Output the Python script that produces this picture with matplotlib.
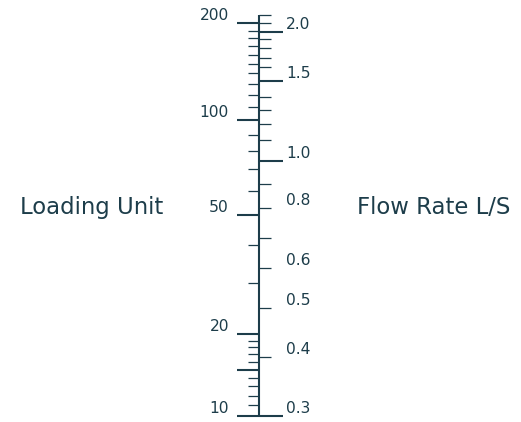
import numpy as np
import matplotlib
matplotlib.use("Agg")
import matplotlib.pyplot as plt
from matplotlib.transforms import offset_copy

# ---------------- data ----------------
lu_labelled = [10, 20, 50, 100, 200]                     # labelled loading units
lu_mid_long = [15]                                        # long unlabelled tick
lu_minor = [11, 12, 13, 14, 16, 17, 18, 19, 30, 40,
            60, 70, 80, 90, 110, 120, 130, 140, 150,
            160, 170, 180, 190]

flow_values = [0.3, 0.4, 0.5, 0.6, 0.7, 0.8, 0.9, 1.0, 1.1, 1.2, 1.3,
               1.4, 1.5, 1.6, 1.7, 1.8, 1.9, 2.0, 2.1, 2.2]
# loading unit equivalent of each flow rate
flow_lu_equiv = [10.0, 16.7, 24.6, 33.5, 42.3, 52.6, 62.9, 74.4, 86.7, 97.6,
                 107.4, 118.5, 132.6, 146.2, 156.6, 167.4, 178.5, 188.0,
                 200.0, 212.2]
flow_labelled = [0.3, 0.4, 0.5, 0.6, 0.8, 1.0, 1.5, 2.0]
flow_long = [0.3, 1.0, 1.5, 2.0]

# ---------------- style ----------------
INK = "#1d3d4a"
W, H = 521, 422
fig = plt.figure(figsize=(W / 100, H / 100), dpi=100)
ax = fig.add_axes([0, 0, 1, 1])
ax.set_xlim(0, W)

C = 3.0
fwd = lambda v: np.log10(np.asarray(v, dtype=float) + C)
inv = lambda u: 10 ** np.asarray(u, dtype=float) - C
ax.set_yscale('function', functions=(fwd, inv))

# layout of the scale: LU 10 sits 6 px above bottom, 329 px per log unit
px_per_u = 329.0
bottom_px = 6.0
u10 = float(fwd(10))
ax.set_ylim(float(inv(u10 - bottom_px / px_per_u)),
            float(inv(u10 + (H - bottom_px) / px_per_u)))
ax.axis('off')

X0 = 259.3
L_MAJ, L_MIN = 22.6, 11.0
R_MAJ, R_MIN = 24.0, 11.4

# main line
ax.vlines(X0, min(lu_labelled), max(flow_lu_equiv), color=INK, lw=1.5)

# left ticks
ax.hlines(lu_labelled + lu_mid_long, X0 - L_MAJ, X0, color=INK, lw=1.5)
ax.hlines(lu_minor, X0 - L_MIN, X0, color=INK, lw=0.9)

# right ticks
lu_of = dict(zip(flow_values, flow_lu_equiv))
ax.hlines([lu_of[f] for f in flow_long], X0, X0 + R_MAJ, color=INK, lw=1.5)
ax.hlines([lu_of[f] for f in flow_values if f not in flow_long],
          X0, X0 + R_MIN, color=INK, lw=0.9)

# tick labels
tr = offset_copy(ax.transData, fig=fig, x=0, y=3, units='dots')
for v in lu_labelled:
    ax.text(229.0, v, f"{v}", ha='right', va='baseline', fontsize=11.2,
            color=INK, transform=tr)
for f in flow_labelled:
    ax.text(286.0, lu_of[f], f"{f:.1f}", ha='left', va='baseline',
            fontsize=11.2, color=INK, transform=tr)

# axis titles
fig.text(19.5 / W, 1 - 214.3 / H, "Loading Unit", ha='left', va='baseline',
         fontsize=16.4, color=INK)
fig.text(357.0 / W, 1 - 214.3 / H, "Flow Rate L/S", ha='left', va='baseline',
         fontsize=16.4, color=INK)

fig.savefig("out.png", dpi=100)
